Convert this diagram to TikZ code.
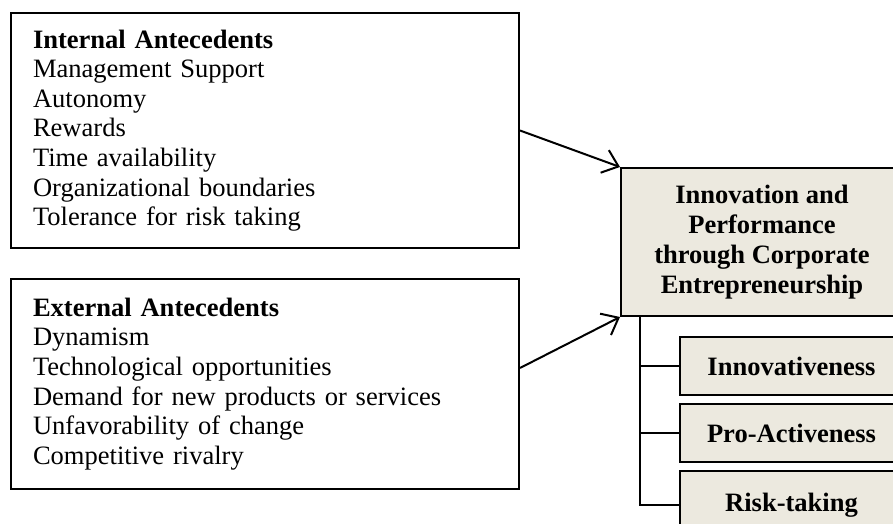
\documentclass[tikz,border=0pt]{standalone}
\usepackage{fontspec}
\setmainfont{Liberation Serif}
\usepackage{tikz}
\usetikzlibrary{arrows.meta, positioning}
\definecolor{boxfill}{RGB}{236,233,223}

\tikzset{
  every node/.style={font=\fontsize{19.9}{22.2}\selectfont},
  listbox/.style={draw, line width=1.5pt, anchor=north west, align=left,
    text width=348pt, inner xsep=16.5pt, minimum width=381pt},
  mainbox/.style={draw, line width=1.5pt, fill=boxfill, anchor=north west,
    align=center, font=\fontsize{19.9}{22.5}\selectfont\bfseries,
    minimum width=211.5pt, minimum height=111pt},
  subbox/.style={draw, line width=1.5pt, fill=boxfill, anchor=north west,
    font=\fontsize{19.9}{22.2}\selectfont\bfseries,
    minimum width=167.25pt, minimum height=43.5pt},
  link/.style={line width=1.5pt, -{Straight Barb[length=11pt, width=18pt]}},
  branch/.style={line width=1pt}
}

\begin{document}
\begin{tikzpicture}[x=0.75pt, y=-0.75pt]
    \useasboundingbox (0,0) rectangle (893,524);

    % Draw antecedent boxes
    \node[listbox, minimum height=176.25pt] (internal) at (10,12)
        {\textbf{Internal Antecedents}\\ Management Support\\ Autonomy\\
         Rewards\\ Time availability\\ Organizational boundaries\\
         Tolerance for risk taking};
    \node[listbox, minimum height=157.5pt] (external) at (10,278)
        {\textbf{External Antecedents}\\ Dynamism\\ Technological opportunities\\
         Demand for new products or services\\ Unfavorability of change\\
         Competitive rivalry};

    % Draw outcome box
    \node[mainbox] (outcome) at (620,167)
        {Innovation and\\ Performance\\ through Corporate\\ Entrepreneurship};

    % Draw dimension boxes
    \node[subbox] (innov) at (679,336) {Innovativeness};
    \node[subbox] (proact) at (679,403) {Pro-Activeness};
    \node[subbox, minimum height=51pt] (risk) at (679,470) {Risk-taking};

    % Add arrows
    \draw[link] (internal.east) -- (outcome.north west);
    \draw[link] ([yshift=12pt]external.east) -- (outcome.south west);

    % Add branch lines
    \coordinate (trunk) at ([xshift=15pt]outcome.south west);
    \draw[branch] (trunk) |- (innov.west);
    \draw[branch] (trunk) |- (proact.west);
    \draw[branch] (trunk) |- (risk.west);
\end{tikzpicture}
\end{document}
